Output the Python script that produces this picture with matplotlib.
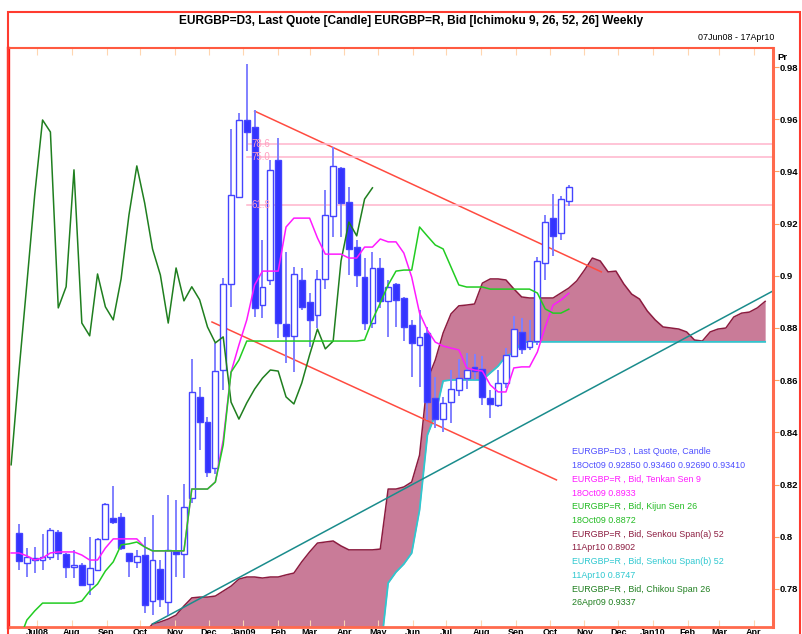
import matplotlib
matplotlib.use('Agg')
import matplotlib.pyplot as plt
import matplotlib.dates as mdates
from matplotlib.patches import Rectangle
import pandas as pd

W, H = 802, 634
FONT = ['Liberation Sans Narrow', 'Liberation Sans', 'DejaVu Sans']
plt.rcParams['font.family'] = FONT

# weekly candles 15Jun08 .. 18Oct09
opens = [0.8016, 0.7900, 0.7911, 0.7911, 0.7923, 0.8019, 0.7934, 0.7884, 0.7892, 0.7819,
         0.7873, 0.7992, 0.8072, 0.8076, 0.7938, 0.7903, 0.7930, 0.7754, 0.7877, 0.7750,
         0.7946, 0.7934, 0.8149, 0.8536, 0.8440, 0.8264, 0.8640, 0.8969, 0.9302, 0.9597,
         0.9570, 0.8889, 0.8985, 0.9444, 0.8816, 0.8770, 0.8985, 0.8900, 0.8850, 0.8988,
         0.9229, 0.9413, 0.9283, 0.9110, 0.8996, 0.8819, 0.9030, 0.8904, 0.8969, 0.8915,
         0.8812, 0.8735, 0.8781, 0.8531, 0.8451, 0.8516, 0.8562, 0.8608, 0.8651, 0.8643,
         0.8532, 0.8505, 0.8589, 0.8693, 0.8785, 0.8728, 0.8750, 0.9049, 0.9222, 0.9164,
         0.9285]
highs = [0.8049, 0.7957, 0.7960, 0.8011, 0.8034, 0.8026, 0.7938, 0.7950, 0.7900, 0.7998,
         0.7996, 0.8130, 0.8195, 0.8090, 0.7938, 0.7950, 0.8000, 0.8083, 0.7911, 0.8160,
         0.8141, 0.8202, 0.8681, 0.8574, 0.8460, 0.8743, 0.8990, 0.9562, 0.9624, 0.9811,
         0.9635, 0.9137, 0.9444, 0.9528, 0.9091, 0.9034, 0.9030, 0.8934, 0.9022, 0.9329,
         0.9494, 0.9417, 0.9340, 0.9137, 0.9068, 0.9091, 0.9068, 0.8985, 0.8973, 0.8919,
         0.8831, 0.8869, 0.8804, 0.8612, 0.8536, 0.8639, 0.8681, 0.8704, 0.8700, 0.8693,
         0.8562, 0.8639, 0.8724, 0.8846, 0.8838, 0.8831, 0.9072, 0.9233, 0.9314, 0.9306,
         0.9346]
lows = [0.7873, 0.7846, 0.7861, 0.7873, 0.7911, 0.7911, 0.7842, 0.7842, 0.7812, 0.7777,
        0.7873, 0.7992, 0.8050, 0.7950, 0.7846, 0.7880, 0.7708, 0.7700, 0.7731, 0.7700,
        0.7846, 0.7842, 0.8130, 0.8333, 0.8230, 0.8240, 0.8562, 0.8880, 0.9302, 0.9480,
        0.8842, 0.8838, 0.8966, 0.8760, 0.8666, 0.8631, 0.8870, 0.8727, 0.8800, 0.8950,
        0.9149, 0.9149, 0.9003, 0.8958, 0.8792, 0.8800, 0.8877, 0.8766, 0.8804, 0.8750,
        0.8612, 0.8574, 0.8448, 0.8417, 0.8402, 0.8436, 0.8540, 0.8566, 0.8600, 0.8505,
        0.8455, 0.8497, 0.8570, 0.8689, 0.8700, 0.8716, 0.8735, 0.8985, 0.9076, 0.9137,
        0.9269]
closes = [0.7908, 0.7923, 0.7919, 0.7923, 0.8026, 0.7938, 0.7884, 0.7892, 0.7816, 0.7881,
          0.7992, 0.8126, 0.8057, 0.7957, 0.7907, 0.7926, 0.7739, 0.7911, 0.7762, 0.7950,
          0.7934, 0.8114, 0.8555, 0.8440, 0.8249, 0.8635, 0.8969, 0.9310, 0.9597, 0.9551,
          0.8877, 0.8958, 0.9406, 0.8819, 0.8770, 0.9007, 0.8881, 0.8831, 0.8988, 0.9233,
          0.9421, 0.9279, 0.9103, 0.9003, 0.8819, 0.9030, 0.8904, 0.8958, 0.8908, 0.8804,
          0.8743, 0.8766, 0.8516, 0.8451, 0.8513, 0.8566, 0.8608, 0.8639, 0.8635, 0.8536,
          0.8509, 0.8589, 0.8697, 0.8796, 0.8720, 0.8750, 0.9057, 0.9206, 0.9153, 0.9294,
          0.9341]

# indicator lines, weekly from 08Jun08
tenkan = [0.7938, 0.7938, 0.7927, 0.7911, 0.7919, 0.7938, 0.7942, 0.7942, 0.7942, 0.7930,
          0.7911, 0.7911, 0.7957, 0.7992, 0.7992, 0.7992, 0.7992, 0.7961, 0.7946, 0.7946,
          0.7946, 0.7946, 0.7946, 0.8183, 0.8183, 0.8183, 0.8210, 0.8371, 0.8631, 0.8735,
          0.8831, 0.8965, 0.9018, 0.9018, 0.9018, 0.9187, 0.9221, 0.9221, 0.9221, 0.9145,
          0.9083, 0.9083, 0.9083, 0.9068, 0.9068, 0.9110, 0.9110, 0.9141, 0.9130, 0.9130,
          0.9087, 0.8995, 0.8857, 0.8792, 0.8746, 0.8731, 0.8723, 0.8716, 0.8647, 0.8639,
          0.8635, 0.8582, 0.8555, 0.8555, 0.8647, 0.8651, 0.8651, 0.8708, 0.8804, 0.8888,
          0.8907, 0.8933]
kijun = [0.7580, 0.7602, 0.7681, 0.7716, 0.7746, 0.7746, 0.7746, 0.7746, 0.7746, 0.7754,
         0.7792, 0.7819, 0.7869, 0.7904, 0.7969, 0.7973, 0.7980, 0.7961, 0.7946, 0.7946,
         0.7946, 0.7946, 0.7946, 0.8183, 0.8183, 0.8183, 0.8210, 0.8352, 0.8631, 0.8677,
         0.8750, 0.8750, 0.8750, 0.8750, 0.8750, 0.8750, 0.8750, 0.8750, 0.8750, 0.8750,
         0.8750, 0.8750, 0.8750, 0.8750, 0.8750, 0.8754, 0.8831, 0.8896, 0.8965, 0.9018,
         0.9022, 0.9022, 0.9187, 0.9152, 0.9118, 0.9103, 0.9034, 0.8965, 0.8957, 0.8957,
         0.8957, 0.8949, 0.8949, 0.8949, 0.8949, 0.8949, 0.8949, 0.8934, 0.8873, 0.8857,
         0.8857, 0.8872]
# chikou 08Jun08 .. 26Apr09
chikou = [0.8276, 0.8635, 0.8969, 0.9310, 0.9597, 0.9551, 0.8877, 0.8958, 0.9406, 0.8819,
          0.8770, 0.9007, 0.8881, 0.8831, 0.8988, 0.9233, 0.9421, 0.9279, 0.9103, 0.9003,
          0.8819, 0.9030, 0.8904, 0.8958, 0.8908, 0.8804, 0.8743, 0.8766, 0.8516, 0.8451,
          0.8513, 0.8566, 0.8608, 0.8639, 0.8635, 0.8536, 0.8509, 0.8589, 0.8697, 0.8796,
          0.8720, 0.8750, 0.9057, 0.9206, 0.9153, 0.9294, 0.9337]
# cloud 05Oct08 .. 11Apr10
senkou_a = [0.7632, 0.7666, 0.7674, 0.7685, 0.7700, 0.7735, 0.7766, 0.7769, 0.7769, 0.7773,
            0.7792, 0.7811, 0.7838, 0.7846, 0.7846, 0.7842, 0.7846, 0.7846, 0.7854, 0.7861,
            0.7904, 0.7942, 0.7976, 0.7980, 0.7984, 0.7965, 0.7950, 0.7950, 0.7950, 0.7950,
            0.7953, 0.8183, 0.8183, 0.8191, 0.8210, 0.8313, 0.8601, 0.8677, 0.8781, 0.8854,
            0.8885, 0.8888, 0.8892, 0.8972, 0.8988, 0.8988, 0.8984, 0.8950, 0.8919, 0.8915,
            0.8915, 0.8915, 0.8915, 0.8934, 0.8953, 0.8980, 0.9022, 0.9068, 0.9057, 0.9015,
            0.9018, 0.8969, 0.8930, 0.8911, 0.8865, 0.8831, 0.8804, 0.8800, 0.8796, 0.8785,
            0.8754, 0.8750, 0.8785, 0.8796, 0.8800, 0.8842, 0.8857, 0.8861, 0.8877, 0.8902]
senkou_b = [0.755, 0.755, 0.755, 0.755, 0.755, 0.755, 0.755, 0.755, 0.755, 0.755,
            0.755, 0.755, 0.755, 0.755, 0.755, 0.755, 0.755, 0.755, 0.755, 0.755,
            0.755, 0.755, 0.755, 0.755, 0.755, 0.755, 0.755, 0.755, 0.755, 0.755,
            0.755, 0.7823, 0.7865, 0.7896, 0.7938, 0.8103, 0.8390, 0.8467, 0.8597, 0.8601,
            0.8601, 0.8601, 0.8601, 0.8601, 0.8628, 0.8654, 0.8693, 0.8704, 0.8746, 0.8747,
            0.8747, 0.8747, 0.8747, 0.8747, 0.8747, 0.8747, 0.8747, 0.8747, 0.8747, 0.8747,
            0.8747, 0.8747, 0.8747, 0.8747, 0.8747, 0.8747, 0.8747, 0.8747, 0.8747, 0.8747,
            0.8747, 0.8747, 0.8747, 0.8747, 0.8747, 0.8747, 0.8747, 0.8747, 0.8747, 0.8747]

# drawn trend lines and fibonacci levels
upper_trend = [('2009-01-11', 0.9631), ('2009-11-16', 0.9015)]
lower_trend = [('2008-12-04', 0.8823), ('2009-10-07', 0.8218)]
support_trend = [('2008-10-12', 0.7666), ('2010-04-18', 0.8942)]
fib_labels = ['78.6', '75.0', '61.8']
fib_levels = [0.9505, 0.9455, 0.9271]
yticks = [0.78, 0.80, 0.82, 0.84, 0.86, 0.88, 0.90, 0.92, 0.94, 0.96, 0.98]
ytick_labels = ['0.78', '0.8', '0.82', '0.84', '0.86', '0.88', '0.9', '0.92', '0.94', '0.96', '0.98']
month_labels = ['Jul08', 'Aug', 'Sep', 'Oct', 'Nov', 'Dec', 'Jan09', 'Feb', 'Mar', 'Apr', 'May',
                'Jun', 'Jul', 'Aug', 'Sep', 'Oct', 'Nov', 'Dec', 'Jan10', 'Feb', 'Mar', 'Apr']

legend_lines = [
    ('EURGBP=D3 , Last Quote, Candle', '#4f4fff'),
    ('18Oct09 0.92850 0.93460 0.92690 0.93410', '#4f4fff'),
    ('EURGBP=R , Bid, Tenkan Sen 9', '#ff1aff'),
    ('18Oct09 0.8933', '#ff1aff'),
    ('EURGBP=R , Bid, Kijun Sen 26', '#22bb22'),
    ('18Oct09 0.8872', '#22bb22'),
    ('EURGBP=R , Bid, Senkou Span(a) 52', '#8c1c40'),
    ('11Apr10 0.8902', '#8c1c40'),
    ('EURGBP=R , Bid, Senkou Span(b) 52', '#2ec8d0'),
    ('11Apr10 0.8747', '#2ec8d0'),
    ('EURGBP=R , Bid, Chikou Span 26', '#1f7f1f'),
    ('26Apr09 0.9337', '#1f7f1f'),
]

# --- dates
cd = mdates.date2num(pd.date_range('2008-06-15', periods=len(closes), freq='7D'))
ld = mdates.date2num(pd.date_range('2008-06-08', periods=len(tenkan), freq='7D'))
chd = mdates.date2num(pd.date_range('2008-06-08', periods=len(chikou), freq='7D'))
sd = mdates.date2num(pd.date_range('2008-10-05', periods=len(senkou_a), freq='7D'))
months = mdates.date2num(pd.date_range('2008-07-01', '2010-04-01', freq='MS'))

fig = plt.figure(figsize=(W / 100, H / 100), dpi=100)
ax = fig.add_axes([8 / W, 1 - 627 / H, (773 - 8) / W, (627 - 48) / H])

# cloud
ax.fill_between(sd, senkou_a, senkou_b, color='#c97b98', linewidth=0, zorder=1)
ax.plot(sd, senkou_a, color='#8c1c40', lw=1.1, zorder=2)
ax.plot(sd, senkou_b, color='#2ec8d0', lw=1.3, zorder=2)

# trend lines
for pts, col in [(upper_trend, '#ff4b40'), (lower_trend, '#ff4b40'), (support_trend, '#1a8c8c')]:
    xs = mdates.date2num(pd.to_datetime([p[0] for p in pts]))
    ax.plot(xs, [p[1] for p in pts], color=col, lw=1.1, zorder=2)

# fibonacci
fib_x0 = mdates.date2num(pd.Timestamp('2009-01-04'))
fib_tx = mdates.date2num(pd.Timestamp('2009-01-08'))
for lab, lv in zip(fib_labels, fib_levels):
    ax.plot([fib_x0, cd[-1] + 400], [lv, lv], color='#ffb4cc', lw=1.1, zorder=2)
    ax.text(fib_tx, lv, lab, color='#ffa0c0', fontsize=7, va='center', ha='left', zorder=6)

# candles
ax.vlines(cd, lows, highs, color='#8080ff', lw=1.4, zorder=3)
for x, o, c in zip(cd, opens, closes):
    up = c >= o
    ax.bar(x, abs(c - o) or 0.0002, bottom=min(o, c), width=5.2,
           facecolor='white' if up else '#3333ff', edgecolor='#4444ff',
           linewidth=1.0, zorder=4)

# ichimoku lines
ax.plot(chd, chikou, color='#1f7f1f', lw=1.1, zorder=5)
ax.plot(ld, tenkan, color='#ff1aff', lw=1.1, zorder=5)
ax.plot(ld, kijun, color='#22cc22', lw=1.1, zorder=5)

# axes
x_left = cd[0] - 9.8
ax.set_xlim(x_left, x_left + 681.8)
ax.set_ylim(0.76544, 0.98728)
ax.set_xticks(months)
ax.set_xticklabels(month_labels, fontsize=6.5, fontweight='bold')
ax.tick_params(axis='x', direction='in', length=5, color='#ffd6b0', top=True, bottom=True, pad=0.5)
ax.yaxis.tick_right()
ax.set_yticks(yticks)
ax.set_yticklabels(ytick_labels, fontsize=6.8, fontweight='bold')
ax.tick_params(axis='y', direction='out', length=4, color='#ffa060', pad=1, right=True, left=False)
ax.spines['left'].set_color('#ff1a1a')
ax.spines['left'].set_linewidth(2.4)
ax.spines['right'].set_color('#ff6a4d')
ax.spines['right'].set_linewidth(2.2)
ax.spines['top'].set_color('#ff5a40')
ax.spines['top'].set_linewidth(1.5)
ax.spines['bottom'].set_color('#ff6a4d')
ax.spines['bottom'].set_linewidth(2.0)

# outer frame
fig.patches.append(Rectangle((8 / W, -0.02), 792 / W, (634 - 12) / H + 0.02,
                             transform=fig.transFigure, fill=False,
                             edgecolor='#ff3b2f', lw=1.5, clip_on=False))

fig.text(411 / W, 1 - 21 / H,
         'EURGBP=D3, Last Quote [Candle] EURGBP=R, Bid [Ichimoku 9, 26, 52, 26] Weekly',
         ha='center', va='center', fontsize=8.6, fontweight='bold')
fig.text(774 / W, 1 - 38 / H, '07Jun08 - 17Apr10', ha='right', va='center', fontsize=6.4)
fig.text(777 / W, 1 - 58 / H, 'Pr', ha='left', va='center', fontsize=6.8, fontweight='bold')

for i, (txt, col) in enumerate(legend_lines):
    fig.text(572 / W, 1 - (452 + i * 13.7) / H, txt, color=col, fontsize=6.4, va='center')

fig.savefig('out.png', dpi=100)
plt.close(fig)
